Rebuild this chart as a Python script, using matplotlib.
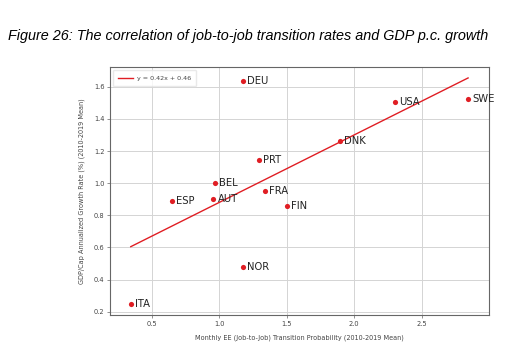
import numpy as np
import matplotlib
matplotlib.use("Agg")
import matplotlib.pyplot as plt

# Country averages, 2010-2019
countries = ["DEU", "PRT", "BEL", "FRA", "ESP", "AUT", "FIN", "NOR", "ITA", "USA", "DNK", "SWE"]
ee_rate = [1.178, 1.297, 0.969, 1.337, 0.650, 0.957, 1.502, 1.174, 0.344, 2.300, 1.897, 2.845]
gdp_growth = [1.637, 1.142, 1.000, 0.952, 0.889, 0.902, 0.858, 0.479, 0.250, 1.508, 1.260, 1.525]

# Fitted line coefficients
slope = 0.42
intercept = 0.46

xticks = [0.5, 1.0, 1.5, 2.0, 2.5]
yticks = [0.2, 0.4, 0.6, 0.8, 1.0, 1.2, 1.4, 1.6]

red = "#e01e24"

fig = plt.figure(figsize=(5.10, 3.49), dpi=100)
fig.patch.set_facecolor("white")

fig.text(0.016, 0.898, "Figure 26: The correlation of job-to-job transition rates and GDP p.c. growth",
         family="Liberation Sans", style="italic", fontsize=10.4, color="black",
         ha="left", va="center")

ax = fig.add_axes([0.2157, 0.0974, 0.7431, 0.7106])

ax.grid(True, color="#d4d4d4", linewidth=0.7)
ax.set_axisbelow(True)

ax.scatter(ee_rate, gdp_growth, s=14, color=red, zorder=3, linewidths=0)

xs = np.linspace(min(ee_rate), max(ee_rate), 50)
ax.plot(xs, slope * xs + intercept, color=red, linewidth=1.0, zorder=2,
        label=f"y = {slope:.2f}x + {intercept:.2f}")

for name, x, y in zip(countries, ee_rate, gdp_growth):
    ax.annotate(name, (x, y), xytext=(3, 0), textcoords="offset points",
                fontsize=7.2, color="#222222", va="center", ha="left", zorder=4)

ax.set_xlim(0.19, 3.0)
ax.set_ylim(0.179, 1.723)
ax.set_xticks(xticks)
ax.set_yticks(yticks)
ax.tick_params(labelsize=4.8, labelcolor="#444444", length=2, width=0.5, color="#666666", pad=2)

for s in ax.spines.values():
    s.set_color("#666666")
    s.set_linewidth(0.8)

ax.set_xlabel("Monthly EE (Job-to-Job) Transition Probability (2010-2019 Mean)",
              fontsize=4.7, color="#444444", labelpad=6)
ax.set_ylabel("GDP/Cap Annualized Growth Rate (%) (2010-2019 Mean)",
              fontsize=4.7, color="#444444", labelpad=6)

leg = ax.legend(loc="upper left", fontsize=4.6, frameon=True, handlelength=2.3,
                handletextpad=0.6, borderpad=0.8, edgecolor="#e4e4e4", fancybox=True)
for t in leg.get_texts():
    t.set_color("#444444")

fig.savefig("out.png", dpi=100)
